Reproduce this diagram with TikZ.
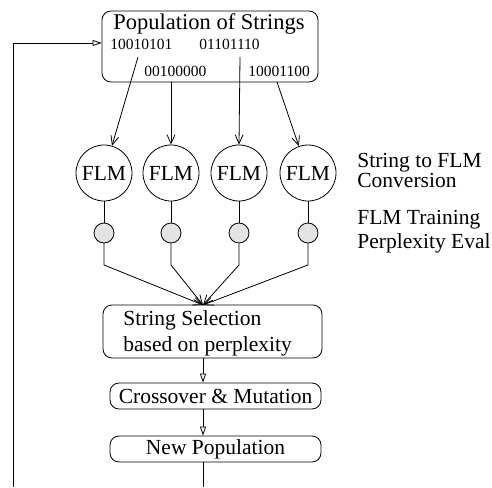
\documentclass[tikz,border=0pt]{standalone}
\usepackage{fontspec}
\setmainfont{Liberation Serif}
\usetikzlibrary{arrows.meta}
\begin{document}
\begin{tikzpicture}[x=1pt,y=-1pt,
  font=\fontsize{21.5}{24}\selectfont,
  line width=0.8pt,
  roundbox/.style={draw, rounded corners=9pt, inner sep=0pt},
  flmnode/.style={draw, circle, minimum size=56pt, inner sep=0pt},
  evalnode/.style={draw, circle, minimum size=20pt, inner sep=0pt, fill=gray!22},
  bits/.style={font=\fontsize{15.5}{18}\selectfont, inner sep=0pt, anchor=base west},
  lbl/.style={inner sep=0pt, anchor=base west},
  vtip/.style={-{Straight Barb[length=9pt,width=8pt,line width=0.8pt]}},
  otip/.style={-{Triangle[open,length=9pt,width=6pt,line width=0.8pt]}}
]
\useasboundingbox (0,0) rectangle (492,487);

% top box
\node[roundbox, minimum width=216pt, minimum height=71pt] (pop) at (210,46.5) {};
\node[inner sep=0pt, font=\fontsize{22.5}{25}\selectfont] (poptitle) at (209,24) {Population of Strings};
\node[bits] (s1) at (110,49) {10010101};
\node[bits] (s2) at (199,49) {01101110};
\node[bits] (s3) at (144,76) {00100000};
\node[bits] (s4) at (248,76) {10001100};
\coordinate (s1b) at (138,57);
\coordinate (s2b) at (171,82);
\coordinate (s3b) at (240,57);
\coordinate (s4b) at (277,82);

% FLM circles
\node[flmnode] (f1) at (104,173) {FLM};
\node[flmnode] (f2) at (171,173) {FLM};
\node[flmnode] (f3) at (239,173) {FLM};
\node[flmnode] (f4) at (308,173) {FLM};

\draw[vtip] (s1b) -- (f1);
\draw[vtip] (s2b) -- (f2);
\draw[vtip] (s3b) -- (f3.north);
\draw[vtip] (s4b) -- (f4);

% eval circles
\node[evalnode] (e1) at (104,233) {};
\node[evalnode] (e2) at (171,233) {};
\node[evalnode] (e3) at (239,233) {};
\node[evalnode] (e4) at (308,233) {};
\draw (f1) -- (e1);
\draw (f2) -- (e2);
\draw (f3) -- (e3);
\draw (f4) -- (e4);

% right labels
\node[lbl] (l1) at (357,167) {String to FLM};
\node[lbl] (l2) at (357,187) {Conversion};
\node[lbl] (l3) at (357,224) {FLM Training};
\node[lbl] (l4) at (357,248) {Perplexity Eval};

% selection box
\node[roundbox, minimum width=219pt, minimum height=53pt] (sel) at (212.5,331.5) {};
\node[lbl] (t1) at (123,325) {String Selection};
\node[lbl] (t2) at (123,351) {based on perplexity};
\coordinate (in) at (203,305);

\coordinate (c1) at (104,265);
\coordinate (c2) at (171,265);
\coordinate (c3) at (239,265);
\coordinate (c4) at (308,265);
\draw[vtip] (e1) -- (c1) -- (in);
\draw[vtip] (e2) -- (c2) -- (in);
\draw[vtip] (e3) -- (c3) -- (in);
\draw[vtip] (e4) -- (c4) -- (in);

% crossover & new population
\node[roundbox, minimum width=211pt, minimum height=26pt] (cross) at (215.5,396) {Crossover \& Mutation};
\node[roundbox, minimum width=211pt, minimum height=26pt] (newpop) at (215.5,449) {New Population};
\draw[otip] (sel.south -| in) -- (cross.north -| in);
\draw[otip] (cross.south -| in) -- (newpop.north -| in);
\coordinate (bot) at (203,487);
\draw (newpop.south -| in) -- (bot);

% feedback
\coordinate (fb0) at (13,487);
\coordinate (fb1) at (13,43);
\draw[otip] (fb0) -- (fb1) -- (fb1 -| pop.west);
\end{tikzpicture}
\end{document}
